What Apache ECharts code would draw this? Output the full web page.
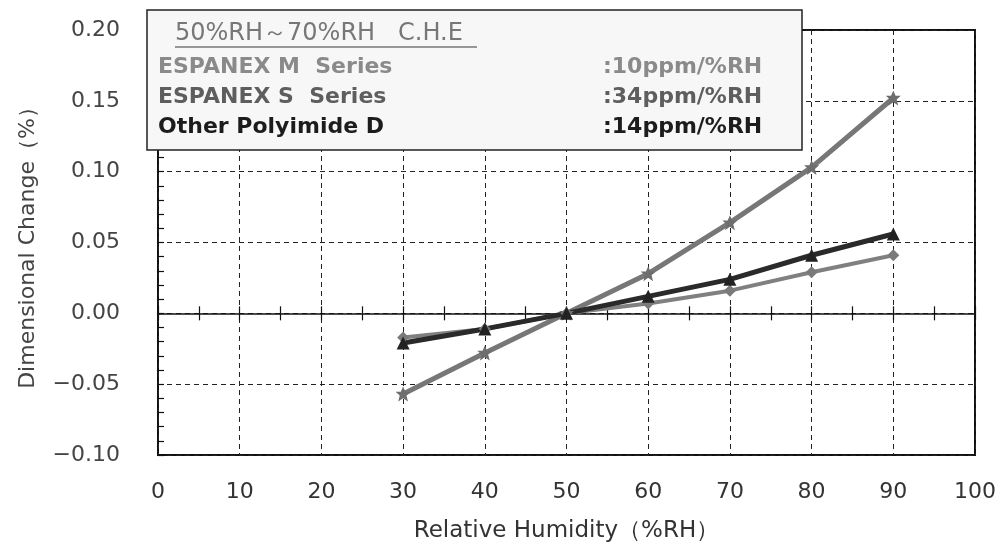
<!DOCTYPE html>
<html>
<head>
<meta charset="utf-8">
<script src="https://cdn.jsdelivr.net/npm/echarts@6/dist/echarts.min.js"></script>
<style>
  html, body { margin: 0; background: #fff; }
  #main { width: 1002px; height: 545px; }
</style>
</head>
<body>
<div id="main"></div>
<script>
// relative humidity (%RH) vs dimensional change (%)
var humidity = [30, 40, 50, 60, 70, 80, 90];
var espanexM = [-0.017, -0.011, 0, 0.007, 0.016, 0.029, 0.041];
var espanexS = [-0.057, -0.028, 0, 0.028, 0.064, 0.103, 0.152];
var polyimideD = [-0.021, -0.011, 0, 0.012, 0.024, 0.041, 0.056];

var boxTitle = '50%RH～70%RH   C.H.E';
var boxNames = ['ESPANEX M  Series', 'ESPANEX S  Series', 'Other Polyimide D'];
var boxRates = [':10ppm/%RH', ':34ppm/%RH', ':14ppm/%RH'];
var boxColors = ['#8a8a8a', '#5e5e5e', '#1c1c1c'];

function pairs(ys) {
    return humidity.map(function (x, i) { return [x, ys[i]]; });
}

var starPath = 'path://M0,-10 L3,-3 L10,-3 L4.5,2 L6.5,10 L0,5.5 L-6.5,10 L-4.5,2 L-10,-3 L-3,-3 Z';
var tickFont = 'DejaVu Sans';
var dash = { color: '#222', type: [5, 4], width: 1 };
var tickLine = { color: '#111', width: 1.2 };

var myChart = echarts.init(document.getElementById('main'));

// box with the C.H.E values, drawn over the plot
var boxItems = [
    { type: 'rect', z: 100, shape: { x: 147, y: 10, width: 655, height: 140 },
      style: { fill: '#f7f7f7', stroke: '#222', lineWidth: 1.5 } },
    { type: 'text', z: 101, x: 175, y: 34,
      style: { text: boxTitle, font: '24px "DejaVu Sans"', fill: '#777', verticalAlign: 'middle' } },
    { type: 'line', z: 101, shape: { x1: 175, y1: 47, x2: 477, y2: 47 },
      style: { stroke: '#777', lineWidth: 1.5 } }
];
boxNames.forEach(function (n, i) {
    var y = 67 + i * 30;
    boxItems.push({ type: 'text', z: 101, x: 158, y: y,
        style: { text: n, font: 'bold 22px "DejaVu Sans"', fill: boxColors[i], verticalAlign: 'middle' } });
    boxItems.push({ type: 'text', z: 101, x: 603, y: y,
        style: { text: boxRates[i], font: 'bold 22px "DejaVu Sans"', fill: boxColors[i], verticalAlign: 'middle' } });
});

myChart.setOption({
    animation: false,
    backgroundColor: '#fff',
    grid: {
        left: 158, right: 27, top: 30, bottom: 90,
        containLabel: false, outerBoundsMode: 'none',
        show: true, borderColor: '#111', borderWidth: 2
    },
    xAxis: [{
        // labels, name and dashed grid
        type: 'value', min: 0, max: 100, interval: 10, position: 'bottom',
        axisLine: { show: false, onZero: false },
        axisTick: { show: false },
        splitLine: { show: true, lineStyle: dash },
        axisLabel: { margin: 26, fontSize: 22, color: '#333', fontFamily: tickFont },
        name: 'Relative Humidity（%RH）', nameLocation: 'middle', nameGap: 65,
        nameTextStyle: { fontSize: 23, color: '#333', fontFamily: tickFont }
    }, {
        // solid zero line, lower half of its ticks
        type: 'value', min: 0, max: 100, interval: 10, position: 'bottom',
        axisLine: { onZero: true, onZeroAxisIndex: 0, lineStyle: { color: '#111', width: 1.5 } },
        axisTick: { show: true, length: 7, lineStyle: tickLine },
        minorTick: { show: true, splitNumber: 2, length: 7, lineStyle: tickLine },
        splitLine: { show: false },
        axisLabel: { show: false }
    }, {
        // upper half of the ticks on the zero line
        type: 'value', min: 0, max: 100, interval: 10, position: 'top',
        axisLine: { show: false, onZero: true, onZeroAxisIndex: 1 },
        axisTick: { show: true, length: 7, lineStyle: tickLine },
        minorTick: { show: true, splitNumber: 2, length: 7, lineStyle: tickLine },
        splitLine: { show: false },
        axisLabel: { show: false }
    }],
    yAxis: [{
        type: 'value', min: -0.1, max: 0.2, interval: 0.05,
        axisLine: { show: false },
        axisTick: { show: true, inside: true, length: 6, lineStyle: tickLine },
        minorTick: { show: true, splitNumber: 5, length: 6, lineStyle: tickLine },
        splitLine: { show: true, lineStyle: dash },
        axisLabel: {
            margin: 38, fontSize: 22, color: '#444', fontFamily: tickFont,
            formatter: function (v) { return (v < 0 ? '−' : '') + Math.abs(v).toFixed(2); }
        },
        name: 'Dimensional Change（%）', nameLocation: 'middle', nameGap: 119, nameRotate: 90,
        nameTextStyle: { fontSize: 22, color: '#444', fontFamily: tickFont }
    }, {
        type: 'value', min: -0.1, max: 0.2, interval: 0.05, position: 'right',
        axisLine: { show: false }, axisTick: { show: false },
        axisLabel: { show: false }, splitLine: { show: false }
    }],
    series: [{
        name: boxNames[0], type: 'line', data: pairs(espanexM),
        symbol: 'diamond', symbolSize: 12,
        lineStyle: { color: '#808080', width: 4 },
        itemStyle: { color: '#7a7a7a' }
    }, {
        name: boxNames[1], type: 'line', data: pairs(espanexS),
        symbol: starPath, symbolSize: 15,
        lineStyle: { color: '#777', width: 5 },
        itemStyle: { color: '#6e6e6e' }
    }, {
        name: boxNames[2], type: 'line', data: pairs(polyimideD),
        symbol: 'triangle', symbolSize: 13,
        lineStyle: { color: '#2a2a2a', width: 5 },
        itemStyle: { color: '#222' }
    }],
    graphic: { elements: boxItems }
});
</script>
</body>
</html>
